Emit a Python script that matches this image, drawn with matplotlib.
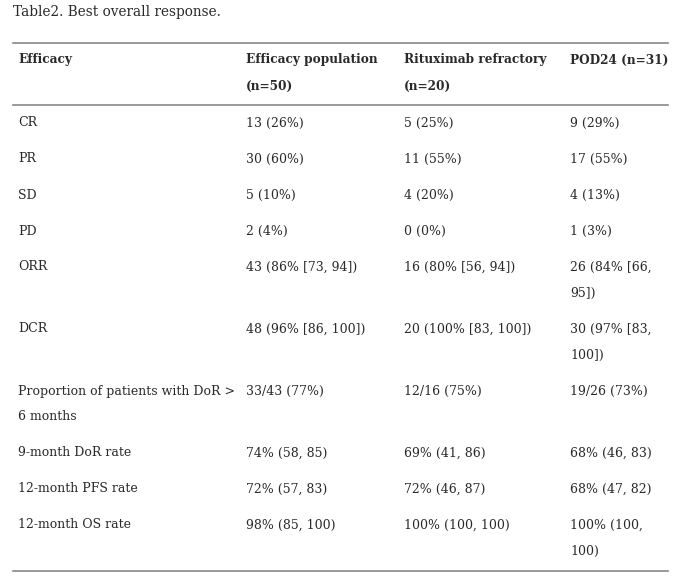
import matplotlib.pyplot as plt
from matplotlib.lines import Line2D

W, H = 697, 584

title = "Table2. Best overall response."
headers = ["Efficacy", "Efficacy population\n(n=50)", "Rituximab refractory\n(n=20)", "POD24 (n=31)"]
row_labels = ["CR", "PR", "SD", "PD", "ORR", "DCR",
              "Proportion of patients with DoR >\n6 months",
              "9-month DoR rate", "12-month PFS rate", "12-month OS rate"]
efficacy_pop = ["13 (26%)", "30 (60%)", "5 (10%)", "2 (4%)", "43 (86% [73, 94])",
                "48 (96% [86, 100])", "33/43 (77%)", "74% (58, 85)", "72% (57, 83)", "98% (85, 100)"]
ritux_refr = ["5 (25%)", "11 (55%)", "4 (20%)", "0 (0%)", "16 (80% [56, 94])",
              "20 (100% [83, 100])", "12/16 (75%)", "69% (41, 86)", "72% (46, 87)", "100% (100, 100)"]
pod24 = ["9 (29%)", "17 (55%)", "4 (13%)", "1 (3%)", "26 (84% [66,\n95])",
         "30 (97% [83,\n100])", "19/26 (73%)", "68% (46, 83)", "68% (47, 82)", "100% (100,\n100)"]

col_x = [18, 246, 404, 570]
font = "DejaVu Serif"
fs = 9.0
fs_bold = 8.75
line_gap = 26
row_gap = 36

fig = plt.figure(figsize=(W / 100, H / 100), dpi=100)
fig.patch.set_facecolor("white")


def px(x, y):
    return x / W, 1 - y / H


def put(x, y, s, bold=False, size=fs):
    for k, part in enumerate(s.split("\n")):
        fig.text(*px(x, y + k * line_gap), part, fontsize=size, family=font,
                 fontweight="bold" if bold else "normal", color="#2a2a2a",
                 va="center", ha="left")


def hline(y):
    fig.add_artist(Line2D([13 / W, 668 / W], [1 - y / H, 1 - y / H],
                          color="#888888", lw=1.2))


put(13, 12, title, size=9.8)
hline(43)
for x, h in zip(col_x, headers):
    put(x, 60, h, bold=True, size=fs_bold)
hline(105)

y = 123
for i in range(len(row_labels)):
    cells = [row_labels[i], efficacy_pop[i], ritux_refr[i], pod24[i]]
    for x, c in zip(col_x, cells):
        put(x, y, c)
    nlines = max(c.count("\n") + 1 for c in cells)
    y += row_gap + (nlines - 1) * line_gap

hline(571)

fig.savefig("out.png", dpi=100)
